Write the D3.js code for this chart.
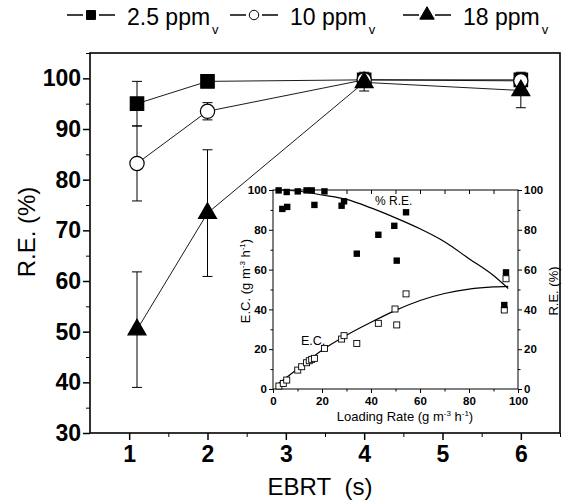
<!DOCTYPE html>
<html>
<head>
<meta charset="utf-8">
<script src="https://cdn.jsdelivr.net/npm/d3@7"></script>
<style>
  body { margin: 0; background: #fff; }
  svg { display: block; font-family: "Liberation Sans", Arial, sans-serif; }
</style>
</head>
<body>
<svg id="chart" width="585" height="500"></svg>
<script>
// main plot: removal efficiency vs EBRT
const ebrt = [1.1, 2, 4, 6];
const re25 = [95.0, 99.4, 99.7, 99.7];
const err25 = [4.4, 0.4, 0.3, 1.5];
const re10 = [83.2, 93.5, 99.7, 99.5];
const err10 = [7.4, 1.7, 1.5, 1.0];
const re18 = [50.4, 73.4, 99.2, 97.6];
const err18 = [11.4, 12.5, 1.7, 3.4];
const seriesLabels = ["2.5 ppm", "10 ppm", "18 ppm"];
const xTicks = [1, 2, 3, 4, 5, 6];
const yTicks = [30, 40, 50, 60, 70, 80, 90, 100];

// inset: loading rate vs R.E. / E.C.
const lrFilled = [2.3, 5.6, 10.1, 13.7, 15.8, 21, 3.8, 5.8, 16.9, 28, 29, 34.2, 43, 49.5, 50.5, 54.3, 95.1, 94.4];
const reFilled = [99.8, 99, 99.3, 99.8, 99.8, 99.3, 90.5, 91.5, 92.5, 92.1, 94.3, 68, 77.5, 82, 64.5, 88.8, 58.6, 42.2];
const lrOpen = [2.4, 4.2, 5.6, 10.1, 11.7, 13.7, 14.8, 15.8, 16.9, 21, 28, 29, 34.2, 43, 49.8, 50.5, 54.3, 95.1, 94.4];
const ecOpen = [1.5, 2.8, 4.5, 9.5, 11.2, 13.2, 14.2, 14.9, 15.4, 20.4, 25.1, 26.8, 22.9, 33, 40.2, 32.2, 47.8, 55.4, 39.7];
const fitX = [2, 10, 20, 30, 40, 50, 60, 70, 80, 90, 96];
const fitRE = [100, 99.5, 97.5, 95.3, 91, 86, 80.5, 74, 65.5, 57, 50.5];
const fitEC = [2.5, 10, 19.5, 27, 33.5, 39.5, 44.5, 48, 50.2, 51.3, 51.6];
const insetTicks = [0, 20, 40, 60, 80, 100];

const svg = d3.select("#chart");

const x = d3.scaleLinear().domain([0.5, 6.5]).range([90, 560]);
const y = d3.scaleLinear().domain([30, 105]).range([433, 53]);

// minor ticks
const xMinor = d3.range(1.5, 6.6, 1);
const yMinor = d3.range(35, 106, 10);

svg.append("g").attr("transform", "translate(0,433)")
  .call(d3.axisBottom(x).tickValues(xMinor).tickSize(4).tickFormat(""))
  .call(g => g.select(".domain").remove());
svg.append("g").attr("transform", "translate(90,0)")
  .call(d3.axisLeft(y).tickValues(yMinor).tickSize(4).tickFormat(""))
  .call(g => g.select(".domain").remove());

const xAxis = svg.append("g").attr("transform", "translate(0,433)")
  .call(d3.axisBottom(x).tickValues(xTicks).tickSize(7).tickPadding(6).tickFormat(d3.format("d")));
const yAxis = svg.append("g").attr("transform", "translate(90,0)")
  .call(d3.axisLeft(y).tickValues(yTicks).tickSize(7).tickPadding(2).tickFormat(d3.format("d")));
[xAxis, yAxis].forEach(a => {
  a.selectAll(".domain").remove();
  a.selectAll("line").attr("stroke-width", 1.5);
  a.selectAll("text").attr("font-size", 23).attr("font-weight", "bold")
    .attr("font-family", "Liberation Sans, Arial, sans-serif").attr("fill", "#000");
});

// frame
svg.append("rect")
  .attr("x", 90).attr("y", 53).attr("width", 470).attr("height", 380)
  .attr("fill", "none").attr("stroke", "#000").attr("stroke-width", 1.6);

// axis titles
svg.append("text").attr("x", 320).attr("y", 495).attr("text-anchor", "middle")
  .attr("font-size", 24).text("EBRT\u00a0\u00a0(s)");
svg.append("text").attr("transform", "translate(35,232) rotate(-90)")
  .attr("text-anchor", "middle").attr("font-size", 24).text("R.E. (%)");

// series
const series = [
  { vals: re25, err: err25, sym: d3.symbolSquare, size: 180, fill: "#000" },
  { vals: re10, err: err10, sym: d3.symbolCircle, size: 160, fill: "#fff" },
  { vals: re18, err: err18, sym: d3.symbolTriangle, size: 140, fill: "#000" }
];

const line = d3.line().x((d, i) => x(ebrt[i])).y(d => y(d));

series.forEach(s => {
  svg.append("path").attr("d", line(s.vals))
    .attr("fill", "none").attr("stroke", "#000").attr("stroke-width", 0.9);
});

series.forEach(s => {
  const eb = svg.append("g").attr("stroke", "#000").attr("stroke-width", 1);
  s.vals.forEach((v, i) => {
    if (s.err[i] <= 0.5) return;
    const cx = x(ebrt[i]);
    const y1 = y(v + s.err[i]), y2 = y(v - s.err[i]);
    eb.append("line").attr("x1", cx).attr("x2", cx).attr("y1", y1).attr("y2", y2);
    eb.append("line").attr("x1", cx - 5).attr("x2", cx + 5).attr("y1", y1).attr("y2", y1);
    eb.append("line").attr("x1", cx - 5).attr("x2", cx + 5).attr("y1", y2).attr("y2", y2);
  });
});

series.forEach(s => {
  svg.append("g").selectAll("path").data(s.vals).join("path")
    .attr("transform", (d, i) => `translate(${x(ebrt[i])},${y(d)})`)
    .attr("d", d3.symbol(s.sym, s.size))
    .attr("fill", s.fill).attr("stroke", "#000").attr("stroke-width", 1.2);
});

// legend
const legendX = [67, 230, 403];
const legendSizes = [80, 70, 90];
seriesLabels.forEach((lab, i) => {
  const lx = legendX[i];
  const g = svg.append("g").attr("stroke", "#000").attr("stroke-width", 1.5);
  g.append("line").attr("x1", lx).attr("x2", lx + 16).attr("y1", 15).attr("y2", 15);
  g.append("line").attr("x1", lx + 32).attr("x2", lx + 48).attr("y1", 15).attr("y2", 15);
  g.append("path").attr("transform", `translate(${lx + 24},15)`)
    .attr("d", d3.symbol(series[i].sym, legendSizes[i]))
    .attr("fill", series[i].fill).attr("stroke-width", 1);
  const t = svg.append("text").attr("x", lx + 60).attr("y", 25).attr("font-size", 23);
  t.append("tspan").text(lab);
  t.append("tspan").attr("dx", 2).attr("dy", 9).attr("font-size", 13).text("v");
});

// ---- inset ----
const ix = d3.scaleLinear().domain([0, 100]).range([273, 518]);
const iy = d3.scaleLinear().domain([0, 100]).range([389, 190]);
const insetMinor = d3.range(10, 100, 20);

const styleInset = g => {
  g.select(".domain").remove();
  g.selectAll("line").attr("stroke-width", 1);
  g.selectAll("text").attr("font-size", 11.5).attr("font-weight", "bold")
    .attr("font-family", "Liberation Sans, Arial, sans-serif").attr("fill", "#000");
};

svg.append("g").attr("transform", "translate(0,389)")
  .call(d3.axisBottom(ix).tickValues(insetTicks).tickSize(4).tickPadding(4).tickFormat(d3.format("d"))).call(styleInset);
svg.append("g").attr("transform", "translate(0,389)")
  .call(d3.axisBottom(ix).tickValues(insetMinor).tickSize(2.5).tickFormat("")).call(styleInset);
svg.append("g").attr("transform", "translate(0,190)")
  .call(d3.axisBottom(ix).tickValues(d3.range(10, 100, 10)).tickSize(4).tickFormat("")).call(styleInset);
svg.append("g").attr("transform", "translate(273,0)")
  .call(d3.axisLeft(iy).tickValues(insetTicks).tickSize(4).tickPadding(2).tickFormat(d3.format("d"))).call(styleInset);
svg.append("g").attr("transform", "translate(273,0)")
  .call(d3.axisLeft(iy).tickValues(insetMinor).tickSize(2.5).tickFormat("")).call(styleInset);
svg.append("g").attr("transform", "translate(518,0)")
  .call(d3.axisRight(iy).tickValues(insetTicks).tickSize(4).tickPadding(2).tickFormat(d3.format("d"))).call(styleInset);
svg.append("g").attr("transform", "translate(518,0)")
  .call(d3.axisRight(iy).tickValues(insetMinor).tickSize(2.5).tickFormat("")).call(styleInset);

svg.append("rect").attr("x", 273).attr("y", 190).attr("width", 245).attr("height", 199)
  .attr("fill", "none").attr("stroke", "#000").attr("stroke-width", 1);

// fitted curves
const fitLine = vals => d3.line().curve(d3.curveMonotoneX)
  .x((d, i) => ix(fitX[i])).y(d => iy(d))(vals);
svg.append("path").attr("d", fitLine(fitRE)).attr("fill", "none").attr("stroke", "#000").attr("stroke-width", 1.2);
svg.append("path").attr("d", fitLine(fitEC)).attr("fill", "none").attr("stroke", "#000").attr("stroke-width", 1.2);

svg.append("g").selectAll("rect").data(ecOpen).join("rect")
  .attr("x", (d, i) => ix(lrOpen[i]) - 3).attr("y", d => iy(d) - 3)
  .attr("width", 6).attr("height", 6)
  .attr("fill", "#fff").attr("stroke", "#000").attr("stroke-width", 0.9);
svg.append("g").selectAll("rect").data(reFilled).join("rect")
  .attr("x", (d, i) => ix(lrFilled[i]) - 3.2).attr("y", d => iy(d) - 3.2)
  .attr("width", 6.4).attr("height", 6.4).attr("fill", "#000");

// inset labels
svg.append("text").attr("x", 375).attr("y", 205).attr("font-size", 12).text("% R.E.");
svg.append("text").attr("x", 301).attr("y", 345).attr("font-size", 12.5).text("E.C.");

const ecTitle = svg.append("text").attr("transform", "translate(250,281) rotate(-90)")
  .attr("text-anchor", "middle").attr("font-size", 13);
ecTitle.append("tspan").text("E.C. (g m");
ecTitle.append("tspan").attr("dy", -5).attr("font-size", 8).text("-3");
ecTitle.append("tspan").attr("dy", 5).text(" h");
ecTitle.append("tspan").attr("dy", -5).attr("font-size", 8).text("-1");
ecTitle.append("tspan").attr("dy", 5).text(")");

svg.append("text").attr("transform", "translate(558,291) rotate(-90)")
  .attr("text-anchor", "middle").attr("font-size", 13).text("R.E. (%)");

const lrTitle = svg.append("text").attr("x", 405).attr("y", 421)
  .attr("text-anchor", "middle").attr("font-size", 13);
lrTitle.append("tspan").text("Loading Rate (g m");
lrTitle.append("tspan").attr("dy", -5).attr("font-size", 8).text("-3");
lrTitle.append("tspan").attr("dy", 5).text(" h");
lrTitle.append("tspan").attr("dy", -5).attr("font-size", 8).text("-1");
lrTitle.append("tspan").attr("dy", 5).text(")");
</script>
</body>
</html>
